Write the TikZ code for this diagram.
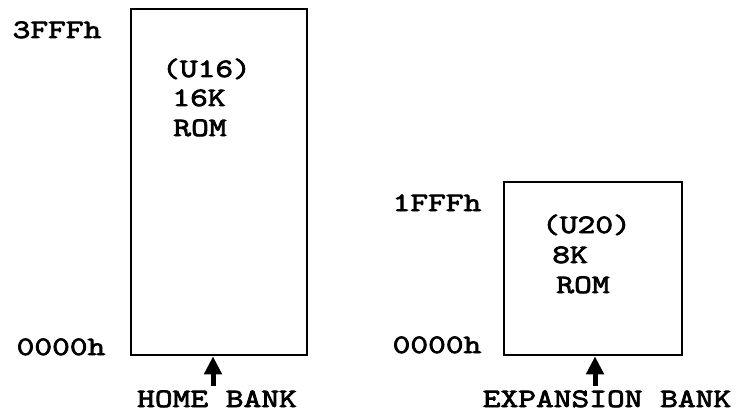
\documentclass[tikz,border=0pt]{standalone}
\usepackage{fontspec}
\usetikzlibrary{arrows.meta}
\newfontfamily\tw{Latin Modern Mono}[FakeStretch=1.3,FakeBold=3]
\begin{document}
\begin{tikzpicture}[x=1pt,y=-1pt,
  membox/.style={draw,line width=2.6pt,inner sep=0pt},
  lbl/.style={font=\tw\fontsize{26.5}{26.5}\selectfont,inner sep=0pt,anchor=base},
  bigarrow/.style={line width=5pt,-{Triangle[width=17pt,length=18pt]}}]
\useasboundingbox (0,0) rectangle (750,412);
% boxes
\node[membox,minimum width=176pt,minimum height=346pt] (home) at (219,182) {};
\node[membox,minimum width=178pt,minimum height=173pt] (exp) at (593,268.5) {};
% texts inside
\node[lbl] (u16) at (206.5,77) {(U16)};
\node[lbl] (k16) at (199,106) {16K};
\node[lbl] (rom1) at (200,136) {ROM};
\node[lbl] (u20) at (586.5,233) {(U20)};
\node[lbl] (k8) at (570,263) {8K};
\node[lbl] (rom2) at (583,293) {ROM};
% address labels
\node[lbl] (a3fff) at (57,38) {3FFFh};
\node[lbl] (a0000l) at (61,355) {0000h};
\node[lbl] (a1fff) at (437,211) {1FFFh};
\node[lbl] (a0000r) at (437,353) {0000h};
% bank labels
\node[lbl] (hbank) at (217,407) {HOME BANK};
\node[lbl] (ebank) at (607,407) {EXPANSION BANK};
% arrows
\coordinate (ht) at (213,386);
\coordinate (et) at (595,386);
\draw[bigarrow] (ht) -- (ht |- home.south);
\draw[bigarrow] (et) -- (et |- exp.south);
\end{tikzpicture}
\end{document}
